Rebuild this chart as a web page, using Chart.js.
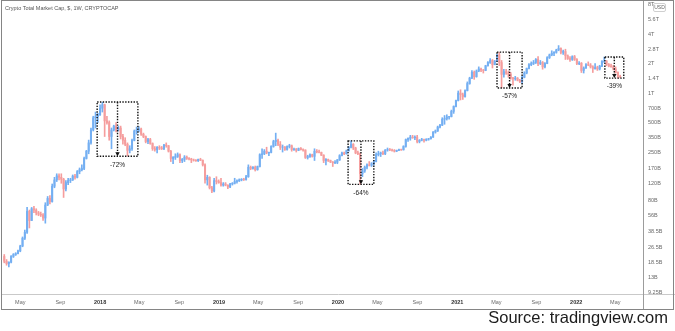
<!DOCTYPE html>
<html>
<head>
<meta charset="utf-8">
<title>Crypto Total Market Cap</title>
<script src="https://cdn.jsdelivr.net/npm/chart.js@4.4.1/dist/chart.umd.min.js"></script>
<style>
  html, body { margin: 0; padding: 0; background: #fff; }
  #wrap { position: relative; width: 675px; height: 331px; background: #fff; overflow: hidden; }
  #plot { position: absolute; left: 2px; top: 0; width: 673px; height: 309px; }
  #frame { position: absolute; left: 1px; top: 0; width: 673px; height: 310px; border: 1px solid #858585; box-sizing: border-box; pointer-events: none; }
  #source { position: absolute; right: 7px; top: 308px; font: 16.5px 'Liberation Sans', Arial, sans-serif; color: #1c1c1c; }
</style>
</head>
<body>
<div id="wrap">
  <div id="plot"><canvas id="chart"></canvas></div>
  <div id="frame"></div>
  <div id="source">Source: tradingview.com</div>
</div>
<script>
// weekly bars, total crypto market cap in billions of USD
const weekStart = '2017-03-13';

const opens = [
  21.5, 19.2, 18.2, 18.8, 21.5, 22.5, 23, 24.5, 27.5, 33, 38, 62, 50, 66, 64, 60, 58, 57, 53, 72, 84, 78, 112, 130, 143, 138, 132, 105, 122, 128, 130, 142, 138, 158, 165, 170, 215, 255, 310, 420, 560, 575,
  600, 700, 760, 520, 500, 360, 420, 460, 420, 440, 360, 330, 300, 260, 270, 330, 410, 420, 430, 380, 360, 320, 335, 305, 270, 265, 280, 275, 270, 295, 290, 255, 215, 220, 225, 235, 205, 210, 222, 215, 212, 208, 206, 204, 210, 206, 185, 130, 138, 108, 100, 128, 125,
  122, 115, 118, 115, 110, 118, 120, 125, 127, 130, 132, 131, 140, 175, 170, 175, 165, 178, 235, 240, 255, 245, 248, 285, 320, 330, 300, 280, 282, 265, 285, 290, 265, 268, 260, 272, 265, 262, 220, 225, 235, 226, 255, 250, 248, 232, 205, 210, 205, 198, 195, 196,
  208, 230, 245, 240, 258, 280, 300, 275, 245, 240, 150, 160, 175, 185, 183, 190, 200, 235, 240, 245, 240, 262, 265, 262, 260, 255, 260, 265, 263, 285, 335, 345, 355, 350, 355, 320, 330, 335, 330, 338, 342, 355, 400, 410, 450, 470, 540, 550, 570, 575, 650, 730,
  840, 1000, 960, 920, 1060, 1250, 1420, 1630, 1470, 1680, 1760, 1720, 1700, 1900, 2050, 2150, 1950, 2120, 2450, 2050, 1550, 1650, 1600, 1560, 1420, 1400, 1420, 1350, 1300, 1450, 1600, 1780, 1950, 2000, 2050, 2200, 2000, 2050, 1850, 2000, 2300, 2450, 2550, 2600, 2750, 2850, 2600, 2650, 2400, 2250, 2200, 2350,
  2200, 2000, 2010, 1700, 1800, 1950, 1930, 1850, 1780, 1820, 1760, 1880, 2100, 2120, 1950, 1880, 1850, 1760, 1620, 1480
];
const highs = [
  22.5, 20, 19, 22, 23, 23.5, 25, 28, 34, 40, 68, 64, 68, 70, 66, 62, 61, 59, 76, 88, 90, 118, 138, 150, 150, 150, 135, 128, 135, 135, 146, 148, 162, 172, 185, 222, 260, 331, 440, 580, 640, 620,
  760, 805, 770, 580, 520, 440, 470, 500, 460, 460, 380, 350, 310, 290, 340, 420, 450, 455, 440, 390, 365, 345, 345, 310, 285, 285, 290, 285, 300, 310, 292, 260, 225, 240, 245, 240, 215, 230, 228, 220, 216, 212, 210, 212, 216, 208, 190, 145, 140, 112, 135, 140, 130,
  135, 122, 122, 116, 120, 122, 135, 130, 133, 134, 135, 145, 185, 180, 178, 180, 180, 240, 270, 265, 280, 250, 290, 330, 390, 340, 320, 295, 285, 290, 300, 295, 275, 272, 275, 278, 270, 264, 232, 240, 238, 270, 265, 262, 250, 235, 215, 212, 207, 200, 205, 210,
  235, 250, 250, 262, 285, 325, 305, 280, 255, 245, 170, 180, 190, 200, 195, 205, 245, 255, 250, 255, 265, 275, 272, 268, 265, 262, 268, 268, 290, 340, 350, 370, 370, 365, 370, 335, 345, 340, 342, 345, 360, 405, 420, 460, 480, 560, 590, 600, 580, 670, 740, 850,
  1050, 1080, 1000, 1080, 1300, 1450, 1700, 1680, 1720, 1850, 1800, 1740, 1920, 2100, 2250, 2200, 2150, 2480, 2610, 2150, 1750, 1750, 1680, 1620, 1450, 1480, 1440, 1380, 1480, 1650, 1800, 2000, 2080, 2150, 2250, 2350, 2150, 2100, 2050, 2350, 2500, 2700, 2650, 2800, 3050, 2900, 2750, 2800, 2450, 2350, 2400, 2420,
  2250, 2100, 2050, 1850, 2000, 2080, 2000, 1900, 2000, 1880, 1920, 2150, 2330, 2150, 2000, 1980, 1920, 1850, 1650, 1520
];
const lows = [
  18.5, 17.5, 16.8, 18.5, 21, 22, 22.8, 24, 27, 32, 37, 42, 50, 60, 57, 56, 55, 50, 47, 71, 74, 77, 108, 125, 130, 120, 86, 100, 116, 122, 128, 132, 136, 150, 160, 165, 212, 240, 300, 410, 440, 500,
  590, 640, 360, 480, 330, 270, 410, 400, 410, 340, 300, 290, 228, 245, 260, 325, 380, 400, 370, 350, 310, 305, 300, 260, 255, 245, 265, 265, 265, 280, 250, 200, 190, 210, 220, 195, 195, 200, 210, 208, 195, 202, 200, 200, 204, 180, 120, 115, 105, 96, 98, 118, 120,
  112, 112, 113, 106, 108, 115, 118, 120, 125, 127, 128, 129, 138, 165, 167, 160, 163, 176, 215, 235, 240, 230, 245, 280, 290, 290, 265, 250, 260, 262, 275, 255, 260, 250, 258, 262, 255, 215, 212, 220, 222, 205, 245, 245, 230, 195, 185, 200, 195, 178, 190, 190,
  205, 228, 235, 238, 255, 275, 265, 240, 235, 117, 140, 155, 168, 180, 178, 185, 198, 228, 225, 235, 235, 255, 258, 255, 250, 252, 258, 260, 262, 280, 320, 330, 345, 335, 310, 310, 325, 315, 325, 330, 338, 352, 390, 405, 440, 465, 480, 530, 540, 570, 620, 720,
  830, 850, 860, 910, 1050, 1230, 1400, 1380, 1450, 1650, 1650, 1600, 1690, 1880, 2000, 1800, 1940, 2100, 1900, 1130, 1450, 1550, 1450, 1380, 1200, 1350, 1330, 1280, 1250, 1430, 1570, 1760, 1900, 1950, 2000, 1900, 1950, 1750, 1800, 1990, 2250, 2400, 2400, 2550, 2700, 2500, 2480, 2200, 2200, 2100, 2150, 2150,
  1950, 1950, 1620, 1600, 1780, 1900, 1800, 1620, 1750, 1700, 1720, 1860, 2050, 1900, 1850, 1840, 1720, 1600, 1420, 1430
];
const closes = [
  19.2, 18.2, 18.8, 21.5, 22.5, 23, 24.5, 27.5, 33, 38, 62, 50, 66, 64, 60, 58, 57, 53, 72, 84, 78, 112, 130, 143, 138, 132, 105, 122, 128, 130, 142, 138, 158, 165, 170, 215, 255, 310, 420, 560, 575, 600,
  700, 760, 520, 500, 360, 420, 460, 420, 440, 360, 330, 300, 260, 270, 330, 410, 420, 430, 380, 360, 320, 335, 305, 270, 265, 280, 275, 270, 295, 290, 255, 215, 220, 225, 235, 205, 210, 222, 215, 212, 208, 206, 204, 210, 206, 185, 130, 138, 108, 100, 128, 125, 122,
  115, 118, 115, 110, 118, 120, 125, 127, 130, 132, 131, 140, 175, 170, 175, 165, 178, 235, 240, 255, 245, 248, 285, 320, 330, 300, 280, 282, 265, 285, 290, 265, 268, 260, 272, 265, 262, 220, 225, 235, 226, 255, 250, 248, 232, 205, 210, 205, 198, 195, 196, 208,
  230, 245, 240, 258, 280, 300, 275, 245, 240, 150, 160, 175, 185, 183, 190, 200, 235, 240, 245, 240, 262, 265, 262, 260, 255, 260, 265, 263, 285, 335, 345, 355, 350, 355, 320, 330, 335, 330, 338, 342, 355, 400, 410, 450, 470, 540, 550, 570, 575, 650, 730, 840,
  1000, 960, 920, 1060, 1250, 1420, 1630, 1470, 1680, 1760, 1720, 1700, 1900, 2050, 2150, 1950, 2120, 2450, 2050, 1550, 1650, 1600, 1560, 1420, 1400, 1420, 1350, 1300, 1450, 1600, 1780, 1950, 2000, 2050, 2200, 2000, 2050, 1850, 2000, 2300, 2450, 2550, 2600, 2750, 2850, 2600, 2650, 2400, 2250, 2200, 2350, 2200,
  2000, 2010, 1700, 1800, 1950, 1930, 1850, 1780, 1820, 1760, 1880, 2100, 2120, 1950, 1880, 1850, 1760, 1620, 1480, 1460
];

// right-hand price scale
const yTickValues = [9.25, 13, 18.5, 26.5, 38.5, 56, 80, 120, 170, 250, 350, 500, 700, 1000, 1400, 2000, 2800, 4000, 5600, 8000];
const yTickLabels = ['9.25B', '13B', '18.5B', '26.5B', '38.5B', '56B', '80B', '120B', '170B', '250B', '350B', '500B', '700B', '1T', '1.4T', '2T', '2.8T', '4T', '5.6T', '8T'];

// time scale
const xTickDates = ['2017-05-01', '2017-09-01', '2018-01-01', '2018-05-01', '2018-09-01', '2019-01-01', '2019-05-01', '2019-09-01',
  '2020-01-01', '2020-05-01', '2020-09-01', '2021-01-01', '2021-05-01', '2021-09-01', '2022-01-01', '2022-05-01'];
const xTickLabels = ['May', 'Sep', '2018', 'May', 'Sep', '2019', 'May', 'Sep', '2020', 'May', 'Sep', '2021', 'May', 'Sep', '2022', 'May'];

// drawdown ranges: start, end, peak value and the measured drop
const dropLabels = ['-72%', '-64%', '-57%', '-39%'];
const dropFrom = ['2017-12-23', '2020-02-01', '2021-05-03', '2022-03-30'];
const dropTo = ['2018-04-27', '2020-04-20', '2021-07-19', '2022-05-27'];
const dropPeak = [809, 325, 2618, 2330];

const DAY = 86400000;
const t0 = Date.parse(weekStart);
const weeks = closes.map((c, i) => t0 + i * 7 * DAY);
const barColors = closes.map((c, i) => c >= opens[i] ? '#74aff2' : '#f59d9d');

const wicks = weeks.map((t, i) => ({ x: t, y: [lows[i], highs[i]] }));
const bodies = weeks.map((t, i) => ({ x: t, y: [Math.min(opens[i], closes[i]), Math.max(opens[i], closes[i])] }));

Chart.defaults.font.family = "'Liberation Sans', Arial, sans-serif";

const frameLines = {
  id: 'frameLines',
  afterDraw(chart) {
    const { ctx, chartArea: a, scales: { x, y } } = chart;
    ctx.save();
    // pane separators
    ctx.strokeStyle = '#c9c9c9';
    ctx.lineWidth = 1;
    ctx.beginPath();
    ctx.moveTo(0, a.bottom + 0.5);
    ctx.lineTo(chart.width, a.bottom + 0.5);
    ctx.stroke();
    ctx.strokeStyle = '#9c9c9c';
    ctx.beginPath();
    ctx.moveTo(a.right + 0.5, 0);
    ctx.lineTo(a.right + 0.5, chart.height);
    ctx.stroke();

    // symbol caption
    ctx.fillStyle = '#555';
    ctx.font = "5.5px 'Liberation Sans', Arial, sans-serif";
    ctx.textBaseline = 'middle';
    ctx.textAlign = 'left';
    ctx.fillText('Crypto Total Market Cap, $, 1W, CRYPTOCAP', 3, 8);

    // currency badge
    ctx.fillStyle = '#fff';
    ctx.strokeStyle = '#cfcfcf';
    ctx.beginPath();
    ctx.roundRect(a.right + 10.5, 3.5, 12, 8, 1.5);
    ctx.fill();
    ctx.stroke();
    ctx.fillStyle = '#666';
    ctx.font = "5px 'Liberation Sans', Arial, sans-serif";
    ctx.textAlign = 'center';
    ctx.fillText('USD', a.right + 16.5, 7.8);

    // drawdown boxes
    dropLabels.forEach((label, i) => {
      const pct = parseFloat(label);
      const x1 = x.getPixelForValue(Date.parse(dropFrom[i]));
      const x2 = x.getPixelForValue(Date.parse(dropTo[i]));
      const yTop = y.getPixelForValue(dropPeak[i]);
      const yBot = y.getPixelForValue(dropPeak[i] * (1 + pct / 100));
      const xm = (x1 + x2) / 2;
      ctx.strokeStyle = '#111';
      ctx.lineWidth = 1.4;
      ctx.setLineDash([1.4, 1.4]);
      ctx.strokeRect(x1, yTop, x2 - x1, yBot - yTop);
      ctx.beginPath();
      ctx.moveTo(xm, yTop);
      ctx.lineTo(xm, yBot - 3);
      ctx.stroke();
      ctx.setLineDash([]);
      ctx.fillStyle = '#111';
      ctx.beginPath();
      ctx.moveTo(xm - 2.2, yBot - 4);
      ctx.lineTo(xm + 2.2, yBot - 4);
      ctx.lineTo(xm, yBot);
      ctx.closePath();
      ctx.fill();
      ctx.fillStyle = '#222';
      ctx.font = "6.5px 'Liberation Sans', Arial, sans-serif";
      ctx.textAlign = 'center';
      ctx.fillText(label, xm, yBot + 8.5);
    });
    ctx.restore();
  }
};

new Chart(document.getElementById('chart'), {
  type: 'bar',
  data: {
    datasets: [
      { data: bodies, backgroundColor: barColors, maxBarThickness: 1.4, categoryPercentage: 1, barPercentage: 1, grouped: false },
      { data: wicks, backgroundColor: barColors, maxBarThickness: 1, categoryPercentage: 1, barPercentage: 1, grouped: false }
    ]
  },
  options: {
    responsive: true,
    maintainAspectRatio: false,
    animation: false,
    layout: { padding: 0 },
    plugins: { legend: { display: false }, tooltip: { enabled: false } },
    scales: {
      x: {
        type: 'linear',
        offset: false,
        min: Date.parse('2017-03-06'),
        max: Date.parse('2022-07-25'),
        grid: { display: false, drawTicks: false, offset: false },
        border: { display: false },
        afterBuildTicks: s => { s.ticks = xTickDates.map(d => ({ value: Date.parse(d) })); },
        afterFit: s => { s.height = 15; s.paddingLeft = 0; s.paddingRight = 0; },
        ticks: {
          autoSkip: false,
          maxRotation: 0,
          padding: 5,
          color: c => /^\d/.test(xTickLabels[c.index]) ? '#333' : '#6a6a6a',
          font: c => ({ size: 5.5, weight: /^\d/.test(xTickLabels[c.index]) ? 'bold' : 'normal' }),
          callback: (v, i) => xTickLabels[i]
        }
      },
      y: {
        type: 'logarithmic',
        position: 'right',
        min: 8.9,
        max: 8900,
        grid: { display: false, drawTicks: false },
        border: { display: false },
        afterBuildTicks: s => { s.ticks = yTickValues.map(v => ({ value: v })); },
        afterFit: s => { s.width = 32; s.paddingTop = 0; s.paddingBottom = 0; },
        ticks: {
          autoSkip: false,
          padding: 5,
          color: '#6a6a6a',
          font: { size: 5.5 },
          callback: (v, i) => yTickLabels[i]
        }
      }
    }
  },
  plugins: [frameLines]
});
</script>
</body>
</html>
